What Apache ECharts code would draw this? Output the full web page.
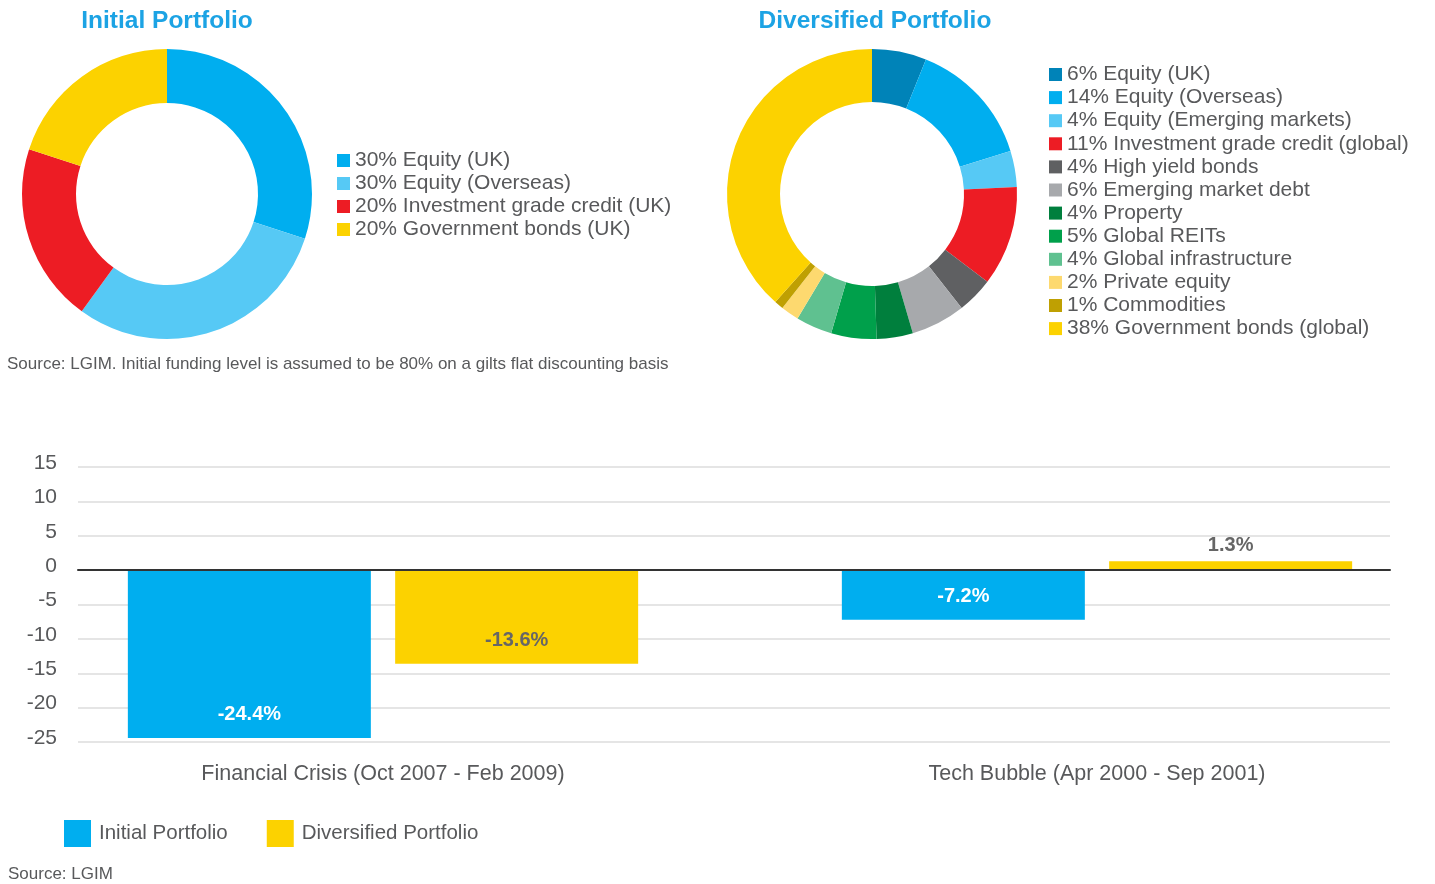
<!DOCTYPE html>
<html>
<head>
<meta charset="utf-8">
<script src="https://cdn.jsdelivr.net/npm/echarts@6/dist/echarts.min.js"></script>
<style>
  html, body { margin: 0; padding: 0; background: #fff; }
  #chart { width: 1435px; height: 884px; }
</style>
</head>
<body>
<div id="chart"></div>
<script>
// data
const initialLabels = ["Equity (UK)", "Equity (Overseas)", "Investment grade credit (UK)", "Government bonds (UK)"];
const initialPct = [30, 30, 20, 20];
const initialColors = ["#00aeef", "#56c9f5", "#ed1c24", "#fcd200"];

const diversLabels = [
  "Equity (UK)", "Equity (Overseas)", "Equity (Emerging markets)", "Investment grade credit (global)",
  "High yield bonds", "Emerging market debt", "Property", "Global REITs",
  "Global infrastructure", "Private equity", "Commodities", "Government bonds (global)"
];
const diversPct = [6, 14, 4, 11, 4, 6, 4, 5, 4, 2, 1, 38];
const diversColors = ["#0083b8", "#00aeef", "#56c9f5", "#ed1c24", "#5f6062", "#a7a9ac",
  "#007f3d", "#00a04b", "#5fc190", "#fdd96f", "#bfa002", "#fcd200"];

const periods = ["Financial Crisis (Oct 2007 - Feb 2009)", "Tech Bubble (Apr 2000 - Sep 2001)"];
const initialReturns = [-24.4, -7.2];
const diversReturns = [-13.6, 1.3];
const yTicks = { min: -25, max: 15, interval: 5 };

const FONT = "'Liberation Sans', Arial, sans-serif";
const TEXT = "#58595b";

const pieData = (labels, pct, colors) =>
  labels.map((l, i) => ({ name: pct[i] + "% " + l, value: pct[i], itemStyle: { color: colors[i] } }));

const initialData = pieData(initialLabels, initialPct, initialColors);
const diversData = pieData(diversLabels, diversPct, diversColors);

const barData = (vals, color, labelColor) => vals.map(v => ({
  value: v,
  itemStyle: { color: color },
  label: v < 0
    ? { show: true, position: "insideBottom", distance: 13, color: labelColor }
    : { show: true, position: "top", distance: 6, color: "#666" }
}));

const chart = echarts.init(document.getElementById("chart"));
chart.setOption({
  animation: false,
  textStyle: { fontFamily: FONT },
  title: [
    { text: "Initial Portfolio", left: 167, top: 9, textAlign: "center", padding: 0,
      textStyle: { color: "#1ca3e4", fontSize: 24.5, fontWeight: "bold", fontFamily: FONT } },
    { text: "Diversified Portfolio", left: 875, top: 9, textAlign: "center", padding: 0,
      textStyle: { color: "#1ca3e4", fontSize: 24.5, fontWeight: "bold", fontFamily: FONT } },
    { text: "Source: LGIM. Initial funding level is assumed to be 80% on a gilts flat discounting basis",
      left: 7, top: 356, padding: 0,
      textStyle: { color: TEXT, fontSize: 17, fontWeight: "normal", fontFamily: FONT } },
    { text: "Source: LGIM", left: 8, top: 866, padding: 0,
      textStyle: { color: TEXT, fontSize: 17, fontWeight: "normal", fontFamily: FONT } }
  ],
  legend: [
    {
      data: initialData.map(d => d.name),
      orient: "vertical", left: 337, top: 150, padding: 0,
      icon: "rect", itemWidth: 13, itemHeight: 13, itemGap: 2,
      textStyle: { color: TEXT, fontSize: 21, lineHeight: 20, fontFamily: FONT }
    },
    {
      data: diversData.map(d => d.name),
      orient: "vertical", left: 1049, top: 64, padding: 0,
      icon: "rect", itemWidth: 13, itemHeight: 13, itemGap: 2.1,
      textStyle: { color: TEXT, fontSize: 21, lineHeight: 20, fontFamily: FONT }
    },
    {
      data: ["Initial Portfolio", "Diversified Portfolio"],
      orient: "horizontal", left: 64, top: 820, padding: 0,
      icon: "rect", itemWidth: 27, itemHeight: 27, itemGap: 39,
      textStyle: { color: TEXT, fontSize: 20.5, fontFamily: FONT, padding: [0, 0, 0, 3] }
    }
  ],
  grid: [
    { left: 78, width: 1312, top: 467, height: 275 },
    { left: 383, width: 714, top: 467, height: 275 }
  ],
  xAxis: [
    {
      type: "category", gridIndex: 0, data: periods, z: 5,
      axisLabel: { show: false }, axisTick: { show: false },
      axisLine: { show: true, onZero: true, lineStyle: { color: "#333", width: 2 } }
    },
    {
      type: "category", gridIndex: 1, data: periods, boundaryGap: false,
      axisLine: { show: false }, axisTick: { show: false },
      axisLabel: { show: true, color: TEXT, fontSize: 21.5, margin: 21, fontFamily: FONT }
    }
  ],
  yAxis: [
    {
      type: "value", gridIndex: 0, min: yTicks.min, max: yTicks.max, interval: yTicks.interval,
      axisLine: { show: false }, axisTick: { show: false },
      axisLabel: { color: TEXT, fontSize: 21, margin: 21, fontFamily: FONT, verticalAlign: "bottom", lineHeight: 8 },
      splitLine: { show: true, lineStyle: { color: "#dcdcdc", width: 1.5 } }
    },
    {
      type: "value", gridIndex: 1, min: yTicks.min, max: yTicks.max, interval: yTicks.interval,
      axisLine: { show: false }, axisTick: { show: false },
      axisLabel: { show: false }, splitLine: { show: false }
    }
  ],
  series: [
    {
      name: "Initial Portfolio (pie)", type: "pie",
      center: [167, 194], radius: [91, 145], startAngle: 90,
      label: { show: false }, labelLine: { show: false },
      data: initialData
    },
    {
      name: "Diversified Portfolio (pie)", type: "pie",
      center: [872, 194], radius: [92, 145], startAngle: 90,
      label: { show: false }, labelLine: { show: false },
      data: diversData
    },
    {
      name: "Initial Portfolio", type: "bar", xAxisIndex: 1, yAxisIndex: 1, clip: false,
      barWidth: 243, barGap: "10%", color: "#00aeef",
      label: { fontSize: 20, fontWeight: "bold", fontFamily: FONT, formatter: p => p.value + "%" },
      data: barData(initialReturns, "#00aeef", "#fff")
    },
    {
      name: "Diversified Portfolio", type: "bar", xAxisIndex: 1, yAxisIndex: 1, clip: false,
      barWidth: 243, barGap: "10%", color: "#fcd200",
      label: { fontSize: 20, fontWeight: "bold", fontFamily: FONT, formatter: p => p.value + "%" },
      data: barData(diversReturns, "#fcd200", "#666")
    }
  ]
});
</script>
</body>
</html>
